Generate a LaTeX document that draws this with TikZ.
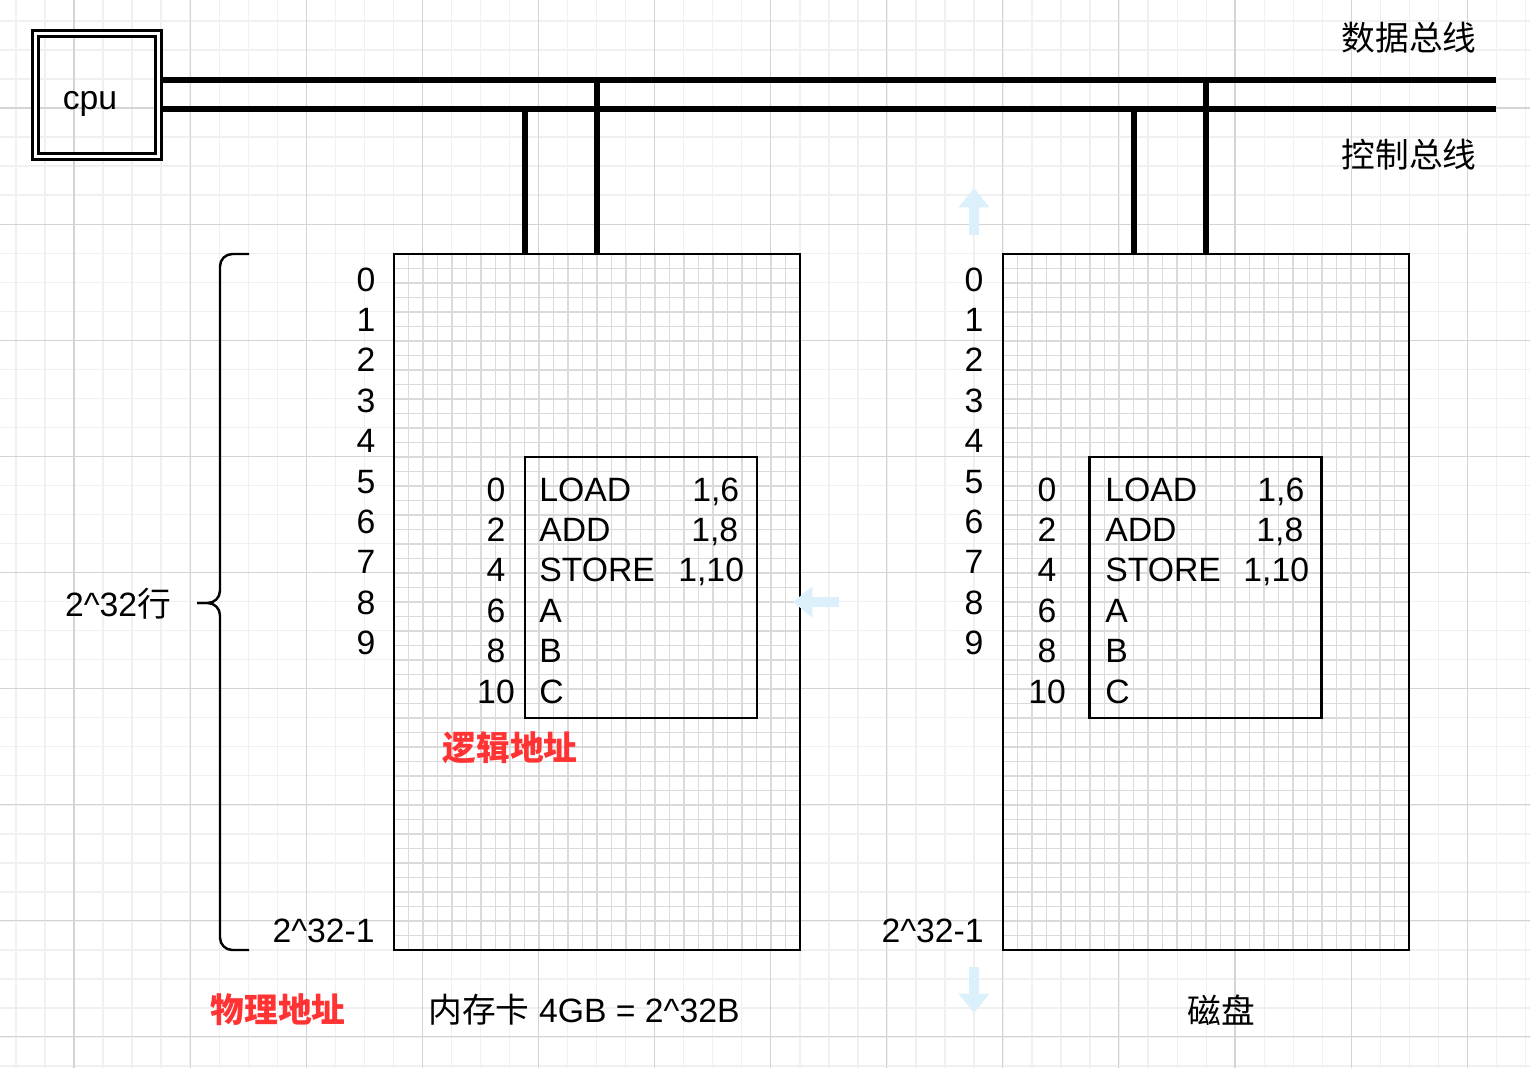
\documentclass[tikz,border=0pt]{standalone}
\usepackage{fontspec}
\setmainfont{Liberation Sans}
\newfontfamily\cjk{Noto Sans CJK SC}
\usetikzlibrary{arrows.meta}
\definecolor{pagegrid}{RGB}{240,240,240}
\definecolor{pagegridmajor}{RGB}{212,212,212}
\definecolor{cellgrid}{RGB}{218,218,218}
\definecolor{addrred}{RGB}{255,51,51}
\definecolor{hintblue}{RGB}{220,240,251}

\begin{document}
\begin{tikzpicture}[x=0.02cm, y=-0.02cm,
    every node/.style={font=\fontsize{19.2}{23}\selectfont, inner sep=0pt},
    cjktext/.style={font=\fontsize{19.2}{23}\selectfont\cjk},
    redlabel/.style={text=addrred, font=\fontsize{19.2}{23}\selectfont\cjk\bfseries},
    addr/.style={anchor=base},
    bus/.style={line width=2.9pt},
    box/.style={draw, line width=1.5pt, outer sep=0pt},
    membox/.style={box, minimum width=8.12cm, minimum height=13.92cm},
    codebox/.style={box, minimum width=4.64cm, minimum height=5.22cm},
    brace/.style={line width=1.4pt, rounded corners=7pt},
    minorgrid/.style={pagegrid, line width=0.8pt},
    majorgrid/.style={pagegridmajor, line width=0.6pt},
    cellline/.style={cellgrid, line width=0.85pt},
    hint/.style={hintblue, line width=5.5pt, -{Triangle[length=11pt, width=17pt]}},
  ]
  \fill[white] (0,0) rectangle (1530,1068);
  \useasboundingbox (0,0) rectangle (1530,1068);
  \foreach \k in {0,...,52} \draw[minorgrid] (16+29.03*\k,0) -- (16+29.03*\k,1068);
  \foreach \k in {-1,...,36} \draw[minorgrid] (0,21+29.03*\k) -- (1530,21+29.03*\k);
  \foreach \k in {0,...,12} \draw[majorgrid] (74+116.1*\k,0) -- (74+116.1*\k,1068);
  \foreach \k in {-1,...,8} \draw[majorgrid] (0,108+116.1*\k) -- (1530,108+116.1*\k);

  \foreach \x in {394,1003} {
    \fill[white] (\x,254) rectangle (\x+406,950);
    \foreach \k in {1,...,27} \draw[cellline] (\x+14.5*\k,254) -- (\x+14.5*\k,950);
    \foreach \k in {1,...,47} \draw[cellline] (\x,254+14.5*\k) -- (\x+406,254+14.5*\k);
  }

  \node[draw, double, line width=1.5pt, double distance=1.9pt,
        minimum size=2.46cm, text height=20pt] (cpu) at (97,95) {cpu\kern0.28cm};
  \node[membox] (mem) at (597,602) {};
  \node[membox] (disk) at (1206,602) {};
  \node[codebox] (memcode) at (641,587.5) {};
  \node[codebox] (diskcode) at (1205.5,587.5) {};

  \coordinate (dataend) at (1496,80);
  \coordinate (ctrlend) at (1496,109);
  \coordinate (memdata) at (597,80);
  \coordinate (memctrl) at (525,109);
  \coordinate (diskdata) at (1206,80);
  \coordinate (diskctrl) at (1134,109);
  \draw[bus] (cpu.east |- dataend) -- (dataend);
  \draw[bus] (cpu.east |- ctrlend) -- (ctrlend);
  \draw[bus] (memdata) -- (memdata |- mem.north);
  \draw[bus] (memctrl) -- (memctrl |- mem.north);
  \draw[bus] (diskdata) -- (diskdata |- disk.north);
  \draw[bus] (diskctrl) -- (diskctrl |- disk.north);
  \node[cjktext] (databus) at (1409,38) {数据总线};
  \node[cjktext] (ctrlbus) at (1409,155) {控制总线};

  \foreach \n in {0,...,9} {
    \node[addr] (memrow\n) at (366,291+40.4*\n) {\n};
    \node[addr] (diskrow\n) at (974,291+40.4*\n) {\n};
  }
  \node[anchor=base east] (memlast) at (375,942) {2\textasciicircum 32-1};
  \node[anchor=base east] (disklast) at (984,942) {2\textasciicircum 32-1};

  \foreach \a/\op [count=\i from 0] in {0/LOAD, 2/ADD, 4/STORE, 6/A, 8/B, 10/C} {
    \node[addr] (memaddr\a) at (496,501+40.4*\i) {\a};
    \node[anchor=base west] (memop\a) at (539,501+40.4*\i) {\op};
    \node[addr] (diskaddr\a) at (1047,501+40.4*\i) {\a};
    \node[anchor=base west] (diskop\a) at (1105,501+40.4*\i) {\op};
  }
  \foreach \a/\arg/\x [count=\i from 0] in {0/{1,6}/692, 2/{1,8}/691, 4/{1,10}/678} {
    \node[anchor=base west] (memarg\a) at (\x,501+40.4*\i) {\arg};
    \node[anchor=base west] (diskarg\a) at (\x+565,501+40.4*\i) {\arg};
  }

  \draw[brace] (249,254) -| (220,603) -- (197,603);
  \draw[brace] (197,603) -- (220,603) |- (249,950);
  \node[addr] (rows) at (118,616) {2\textasciicircum 32{\cjk 行}};

  \node[redlabel] (logical) at (510,748) {逻辑地址};
  \node[redlabel] (physical) at (278,1010) {物理地址};
  \node (memname) at (584,1010) {{\cjk 内存卡} 4GB = 2\textasciicircum 32B};
  \node[cjktext] (diskname) at (1221,1010) {磁盘};

  \coordinate (uptail) at (974,235);
  \coordinate (uptip) at (974,188);
  \coordinate (lefttail) at (839,602);
  \coordinate (lefttip) at (793,602);
  \coordinate (downtail) at (974,967);
  \coordinate (downtip) at (974,1013);
  \draw[hint] (uptail) -- (uptip);
  \draw[hint] (lefttail) -- (lefttip);
  \draw[hint] (downtail) -- (downtip);
\end{tikzpicture}
\end{document}
